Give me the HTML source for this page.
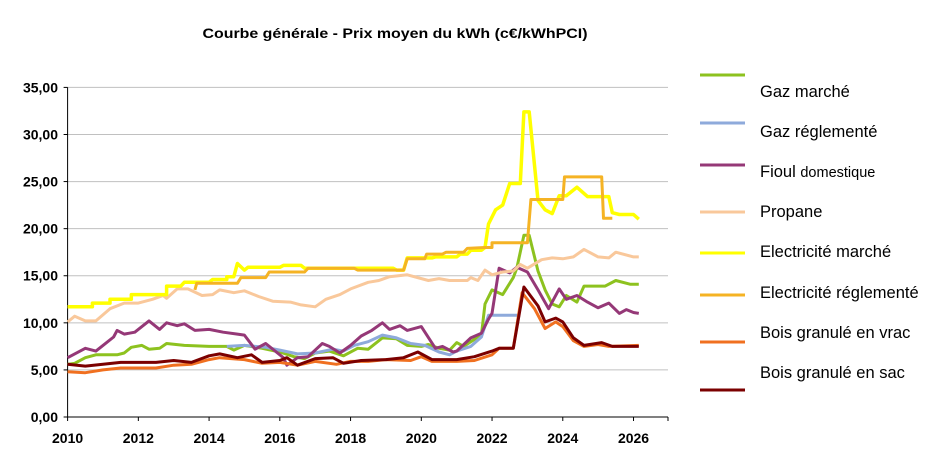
<!DOCTYPE html>
<html><head><meta charset="utf-8"><style>
html,body{margin:0;padding:0;background:#fff;}
svg{display:block;font-family:"Liberation Sans",Arial,sans-serif;}
</style></head><body>
<svg id="s" width="940" height="458" viewBox="0 0 940 458" xmlns="http://www.w3.org/2000/svg">
<rect width="940" height="458" fill="#fff"/>
<text x="395" y="38" text-anchor="middle" font-size="13.5" font-weight="bold" textLength="385" lengthAdjust="spacingAndGlyphs">Courbe générale - Prix moyen du kWh (c€/kWhPCI)</text>
<g id="grid"></g>
<g id="series" fill="none" stroke-linejoin="round"></g>
<g font-size="16.5" fill="#000">
<line x1="700" y1="75" x2="745" y2="75" stroke="#8dc21f" stroke-width="3"/><text x="760" y="97">Gaz marché</text>
<line x1="700" y1="123" x2="745" y2="123" stroke="#8eaadb" stroke-width="3"/><text x="760" y="137">Gaz réglementé</text>
<line x1="700" y1="165" x2="745" y2="165" stroke="#953877" stroke-width="3"/><text x="760" y="177">Fioul <tspan font-size="14.5">domestique</tspan></text>
<line x1="700" y1="212" x2="745" y2="212" stroke="#f9c89b" stroke-width="3"/><text x="760" y="217">Propane</text>
<line x1="700" y1="253" x2="745" y2="253" stroke="#ffff00" stroke-width="3"/><text x="760" y="257">Electricité marché</text>
<line x1="700" y1="295" x2="745" y2="295" stroke="#f5b324" stroke-width="3"/><text x="760" y="298">Electricité réglementé</text>
<line x1="700" y1="342" x2="745" y2="342" stroke="#f07020" stroke-width="3"/><text x="760" y="338">Bois granulé en vrac</text>
<line x1="700" y1="390" x2="745" y2="390" stroke="#7b0000" stroke-width="3"/><text x="760" y="378">Bois granulé en sac</text>
</g>
</svg>
<script>
var X0=67.6,PX=35.37,Y0=417,PY=9.417;
function X(y){return X0+(y-2010)*PX}function Y(v){return Y0-v*PY}
var ns="http://www.w3.org/2000/svg",g=document.getElementById('grid'),s=document.getElementById('series');
function el(p,t,a,txt){var e=document.createElementNS(ns,t);for(var k in a)e.setAttribute(k,a[k]);if(txt)e.textContent=txt;p.appendChild(e);return e}
for(var v=5;v<=35;v+=5)el(g,'line',{x1:X0,x2:668,y1:Y(v),y2:Y(v),stroke:'#c0c0c0','stroke-width':1});
el(g,'line',{x1:X0,x2:X0,y1:Y(35),y2:Y0,stroke:'#000','stroke-width':1});
el(g,'line',{x1:X0,x2:668,y1:Y0,y2:Y0,stroke:'#000','stroke-width':1});
for(var v=0;v<=35;v+=5){el(g,'line',{x1:X0-4,x2:X0,y1:Y(v),y2:Y(v),stroke:'#000'});el(g,'text',{x:58,y:Y(v)+5,'text-anchor':'end','font-size':14,'font-weight':'bold'},v+',00');}
for(var yr=2010;yr<=2026;yr+=2){el(g,'line',{x1:X(yr),x2:X(yr),y1:Y0,y2:Y0+4,stroke:'#000'});el(g,'text',{x:X(yr),y:443,'text-anchor':'middle','font-size':14,'font-weight':'bold'},''+yr);}
el(g,'line',{x1:668,x2:668,y1:Y0,y2:Y0+4,stroke:'#000'});
function S(d,c,w){var p='';for(var i=0;i<d.length;i+=2)p+=(i?'L':'M')+X(d[i]).toFixed(1)+','+Y(d[i+1]).toFixed(1);el(s,'path',{d:p,stroke:c,'stroke-width':w});}
S([2010,5.6,2010.2,5.7,2010.5,6.3,2010.8,6.6,2011.4,6.6,2011.6,6.8,2011.8,7.4,2012.1,7.6,2012.3,7.2,2012.6,7.3,2012.8,7.8,2013.3,7.6,2014,7.5,2014.5,7.5,2014.7,7.1,2015,7.6,2015.5,7.3,2016,6.9,2016.4,6.4,2016.7,6.2,2017,6.8,2017.4,7.0,2017.8,6.5,2018.2,7.3,2018.5,7.2,2018.9,8.4,2019.3,8.3,2019.6,7.6,2020,7.5,2020.2,7.7,2020.5,7.3,2020.8,7.1,2021.0,7.9,2021.2,7.5,2021.4,8.0,2021.7,8.7,2021.8,12.0,2022.0,13.5,2022.3,13.0,2022.6,14.8,2022.7,15.8,2022.9,19.3,2023.05,19.3,2023.3,15.5,2023.5,13.5,2023.7,12.0,2023.9,11.7,2024.1,12.9,2024.4,12.2,2024.6,13.9,2025.2,13.9,2025.5,14.5,2025.9,14.1,2026.15,14.1],'#8dc21f',3);
S([2014.5,7.5,2015,7.6,2015.6,7.4,2016,7.1,2016.5,6.7,2017,6.8,2017.5,7.2,2017.8,7.0,2018.1,7.6,2018.5,8.0,2018.9,8.7,2019.3,8.4,2019.7,7.8,2020.1,7.6,2020.5,6.9,2020.8,6.6,2021.0,7.0,2021.4,7.5,2021.7,8.5,2021.9,10.8,2022.8,10.8],'#8eaadb',3);
S([2010,6.3,2010.2,6.7,2010.5,7.3,2010.8,7.0,2011,7.6,2011.3,8.5,2011.4,9.2,2011.6,8.8,2011.9,9.0,2012.1,9.6,2012.3,10.2,2012.6,9.3,2012.8,10.0,2013.1,9.7,2013.3,9.9,2013.6,9.2,2014,9.3,2014.4,9.0,2014.8,8.8,2015,8.7,2015.3,7.2,2015.6,7.8,2015.9,6.9,2016.1,6.3,2016.2,5.5,2016.5,6.3,2016.8,6.4,2017.2,7.8,2017.4,7.5,2017.7,6.8,2018.0,7.6,2018.3,8.6,2018.6,9.2,2018.9,10.0,2019.1,9.3,2019.4,9.7,2019.6,9.2,2020.0,9.6,2020.4,7.3,2020.6,7.5,2020.9,6.9,2021.0,7.0,2021.4,8.4,2021.7,8.9,2021.9,10.4,2022.0,11.0,2022.2,15.8,2022.5,15.3,2022.7,15.9,2023,15.4,2023.3,13.5,2023.6,11.5,2023.9,13.6,2024.1,12.5,2024.4,12.9,2024.7,12.2,2025,11.6,2025.3,12.1,2025.6,11.0,2025.8,11.4,2026,11.1,2026.15,11.0],'#953877',3);
S([2010,10.1,2010.2,10.7,2010.5,10.2,2010.8,10.2,2011.2,11.5,2011.6,12.1,2012,12.1,2012.4,12.5,2012.7,12.9,2012.8,12.6,2013.1,13.6,2013.4,13.6,2013.8,12.9,2014.1,13.0,2014.3,13.5,2014.7,13.2,2015,13.4,2015.4,12.8,2015.8,12.3,2016.3,12.2,2016.6,11.9,2017,11.7,2017.3,12.5,2017.7,13.0,2018,13.6,2018.5,14.3,2018.8,14.5,2019.1,14.9,2019.6,15.1,2020.2,14.5,2020.5,14.7,2020.8,14.5,2021.3,14.5,2021.4,14.8,2021.6,14.5,2021.8,15.6,2022,15.1,2022.3,15.4,2022.6,15.5,2022.8,16.2,2023,15.8,2023.4,16.7,2023.7,16.9,2024,16.8,2024.3,17.0,2024.6,17.8,2025,17.0,2025.3,16.9,2025.5,17.5,2026,17.0,2026.15,17.0],'#f9c89b',3);
S([2010,11.7,2010.7,11.7,2010.7,12.1,2011.2,12.1,2011.2,12.5,2011.8,12.5,2011.8,13.0,2012.8,13.0,2012.8,13.9,2013.2,13.9,2013.3,14.3,2014,14.3,2014.1,14.6,2014.5,14.6,2014.5,14.9,2014.7,14.9,2014.8,16.3,2015,15.6,2015.1,15.9,2016,15.9,2016.1,16.1,2016.6,16.1,2016.7,15.8,2019.2,15.8,2019.3,15.6,2019.5,15.6,2019.6,16.9,2020.3,16.9,2020.4,17.0,2021,17.0,2021.1,17.3,2021.3,17.3,2021.4,17.7,2021.7,17.7,2021.8,18.0,2021.9,20.5,2022.1,22,2022.3,22.5,2022.5,24.8,2022.8,24.8,2022.9,32.4,2023.05,32.4,2023.3,23,2023.5,22,2023.7,21.6,2023.9,23.5,2024.1,23.5,2024.4,24.4,2024.7,23.4,2025.3,23.4,2025.4,21.7,2025.6,21.5,2026,21.5,2026.15,21.0],'#ffff00',3.5);
S([2013.6,13.5,2013.65,14.2,2014.8,14.2,2014.9,14.8,2015.6,14.8,2015.7,15.4,2016.7,15.4,2016.8,15.8,2018.1,15.8,2018.2,15.6,2019.5,15.6,2019.6,16.8,2020.1,16.8,2020.15,17.3,2020.6,17.3,2020.7,17.5,2021.2,17.5,2021.3,17.9,2021.8,18.0,2022.0,18.0,2022.0,18.5,2023.0,18.5,2023.1,23.1,2024.0,23.1,2024.05,25.5,2025.1,25.5,2025.15,21.1,2025.4,21.1],'#f5b324',3);
S([2010,4.8,2010.5,4.7,2011,5.0,2011.5,5.2,2012.5,5.2,2013,5.5,2013.5,5.6,2014,6.1,2014.3,6.3,2015,6.1,2015.5,5.7,2016,5.8,2016.5,5.5,2017,5.9,2017.6,5.6,2018,5.9,2018.5,5.9,2019,6.1,2019.7,6.0,2020,6.4,2020.3,5.9,2021,5.9,2021.5,6.0,2022,6.6,2022.2,7.3,2022.6,7.3,2022.85,13.2,2023.2,11.5,2023.5,9.4,2023.8,10.1,2024,9.6,2024.3,8.1,2024.6,7.5,2025,7.7,2025.3,7.5,2026.15,7.6],'#f07020',3);
S([2010,5.6,2010.5,5.4,2011,5.6,2011.5,5.8,2012.5,5.8,2013,6.0,2013.5,5.8,2014,6.5,2014.3,6.7,2014.8,6.3,2015.2,6.6,2015.5,5.8,2016,6.0,2016.2,6.3,2016.5,5.5,2017,6.2,2017.5,6.3,2017.8,5.7,2018.3,6.0,2019,6.1,2019.5,6.3,2019.9,6.9,2020.3,6.1,2021,6.1,2021.5,6.4,2022,7.0,2022.2,7.3,2022.6,7.3,2022.9,13.8,2023.3,11.8,2023.5,10.1,2023.8,10.5,2024,10.1,2024.3,8.4,2024.6,7.6,2025.1,7.9,2025.4,7.5,2026.15,7.5],'#7b0000',3);
</script>
</body></html>
